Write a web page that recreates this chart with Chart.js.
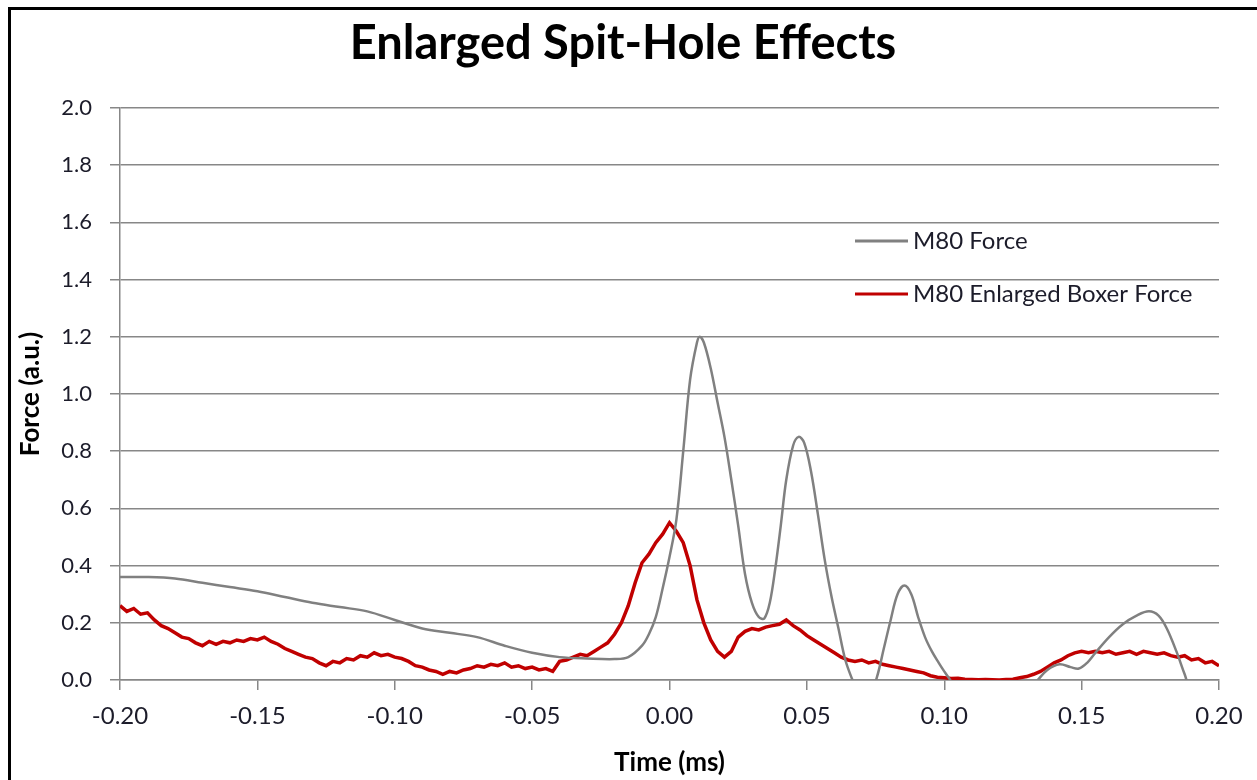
<!DOCTYPE html>
<html>
<head>
<meta charset="utf-8">
<title>Enlarged Spit-Hole Effects</title>
<script src="https://cdn.jsdelivr.net/npm/chart.js@4/dist/chart.umd.min.js"></script>
<style>
    body { margin: 0; background: #fff; }
    #wrap { position: relative; width: 1257px; height: 780px; overflow: hidden; }
    #marco { position: absolute; left: 8px; top: 7px; width: 1300px; height: 900px; border: 3px solid #000; box-sizing: border-box; }
</style>
</head>
<body>
<div id="wrap">
    <div id="marco"></div>
    <canvas id="grafica" width="1257" height="780"></canvas>
</div>
<script>
const tituloGrafica = 'Enlarged Spit-Hole Effects';
const tituloX = 'Time (ms)';
const tituloY = 'Force (a.u.)';
const nombreGris = 'M80 Force';
const nombreRojo = 'M80 Enlarged Boxer Force';
const ticksX = [-0.20, -0.15, -0.10, -0.05, 0.00, 0.05, 0.10, 0.15, 0.20];
const ticksY = [0.0, 0.2, 0.4, 0.6, 0.8, 1.0, 1.2, 1.4, 1.6, 1.8, 2.0];

// M80 Force (gris): tiempo y valor
const tiempoGris = [
    -0.2, -0.19, -0.18, -0.17, -0.16, -0.15, -0.14, -0.13, -0.12, -0.11,
    -0.10, -0.09, -0.08, -0.07, -0.06, -0.05, -0.04, -0.03, -0.02, -0.015,
    -0.01, -0.0075, -0.005, -0.0025, 0.0, 0.0025, 0.005, 0.0075, 0.01, 0.011,
    0.0125, 0.015, 0.0175, 0.02, 0.0225, 0.025, 0.0275, 0.03, 0.0325, 0.0345,
    0.0365, 0.0385, 0.0405, 0.0425, 0.045, 0.047, 0.049, 0.0515, 0.054, 0.0565,
    0.059, 0.0615, 0.064, 0.067, 0.07, 0.073, 0.0755, 0.078, 0.0805, 0.083,
    0.0855, 0.088, 0.0905, 0.093, 0.0955, 0.098, 0.1, 0.1025, 0.106, 0.115,
    0.125, 0.133, 0.1375, 0.142, 0.146, 0.149, 0.152, 0.155, 0.16, 0.165,
    0.17, 0.1745, 0.178, 0.181, 0.1845, 0.1875, 0.19, 0.195, 0.2
];
const fuerzaGris = [
    0.36, 0.36, 0.355, 0.34, 0.325, 0.31, 0.29, 0.27, 0.255, 0.24,
    0.21, 0.18, 0.165, 0.15, 0.12, 0.095, 0.08, 0.075, 0.073, 0.08,
    0.12, 0.16, 0.22, 0.32, 0.43, 0.56, 0.8, 1.05, 1.18, 1.2,
    1.18, 1.09, 0.97, 0.85, 0.7, 0.54, 0.37, 0.27, 0.22, 0.215,
    0.27, 0.39, 0.54, 0.7, 0.82, 0.85, 0.83, 0.73, 0.58, 0.42,
    0.29, 0.18, 0.07, -0.01, -0.08, -0.05, 0.01, 0.11, 0.21, 0.3,
    0.33, 0.3, 0.22, 0.15, 0.1, 0.06, 0.03, -0.005, -0.06, -0.1,
    -0.07, -0.01, 0.035, 0.055, 0.045, 0.04, 0.06, 0.095, 0.15, 0.195,
    0.225, 0.24, 0.225, 0.18, 0.1, 0.02, -0.04, -0.06, 0.0
];

// M80 Enlarged Boxer Force (rojo): una muestra cada 0.0025 ms desde -0.2
const inicioRojo = -0.2;
const pasoRojo = 0.0025;
const fuerzaRojo = [
    0.26, 0.24, 0.25, 0.23, 0.235, 0.21, 0.19, 0.18, 0.165, 0.15,
    0.145, 0.13, 0.12, 0.135, 0.125, 0.135, 0.13, 0.14, 0.135, 0.145,
    0.14, 0.15, 0.135, 0.125, 0.11, 0.1, 0.09, 0.08, 0.075, 0.06,
    0.05, 0.065, 0.06, 0.075, 0.07, 0.085, 0.08, 0.095, 0.085, 0.09,
    0.08, 0.075, 0.065, 0.05, 0.045, 0.035, 0.03, 0.02, 0.03, 0.025,
    0.035, 0.04, 0.05, 0.045, 0.055, 0.05, 0.06, 0.045, 0.05, 0.04,
    0.045, 0.035, 0.04, 0.03, 0.065, 0.07, 0.08, 0.09, 0.085, 0.1,
    0.115, 0.13, 0.16, 0.2, 0.26, 0.34, 0.41, 0.44, 0.48, 0.51,
    0.55, 0.52, 0.48, 0.40, 0.28, 0.2, 0.14, 0.1, 0.08, 0.1,
    0.15, 0.17, 0.18, 0.175, 0.185, 0.19, 0.195, 0.21, 0.19, 0.175,
    0.155, 0.14, 0.125, 0.11, 0.095, 0.08, 0.07, 0.065, 0.07, 0.06,
    0.065, 0.055, 0.05, 0.045, 0.04, 0.035, 0.03, 0.025, 0.015, 0.01,
    0.008, 0.005, 0.006, 0.003, 0.002, 0.001, 0.002, 0.001, 0.0, 0.002,
    0.003, 0.008, 0.012, 0.02, 0.03, 0.045, 0.06, 0.07, 0.085, 0.095,
    0.1, 0.095, 0.1, 0.095, 0.1, 0.09, 0.095, 0.1, 0.09, 0.1,
    0.095, 0.09, 0.095, 0.085, 0.08, 0.085, 0.07, 0.075, 0.06, 0.065,
    0.05
];

const puntosGris = tiempoGris.map((t, i) => ({ x: t, y: fuerzaGris[i] }));
const puntosRojo = fuerzaRojo.map((v, i) => ({ x: +(inicioRojo + i * pasoRojo).toFixed(4), y: v }));

const fuente = "Lato, 'Open Sans', sans-serif";
const colorTexto = '#1c1c2a';
const colorRejilla = '#878787';

// titulo y leyenda dibujados a mano (la leyenda va dentro del area de la grafica)
const textosExtra = {
    id: 'textosExtra',
    afterDraw(chart) {
        const ctx = chart.ctx;
        const area = chart.chartArea;

        ctx.save();
        ctx.fillStyle = '#000';
        ctx.font = 'bold 47px ' + fuente;
        ctx.textAlign = 'center';
        ctx.textBaseline = 'middle';
        ctx.fillText(tituloGrafica, 623, 44);
        ctx.restore();

        const x0 = area.right - 364;
        const filas = [area.top + 133, area.top + 186];
        chart.data.datasets.forEach((ds, i) => {
            const y = filas[i];
            ctx.save();
            ctx.strokeStyle = ds.borderColor;
            ctx.lineWidth = 3;
            ctx.beginPath();
            ctx.moveTo(x0, y);
            ctx.lineTo(x0 + 53, y);
            ctx.stroke();
            ctx.fillStyle = colorTexto;
            ctx.font = '24px ' + fuente;
            ctx.textBaseline = 'middle';
            ctx.fillText(ds.label, x0 + 58, y);
            ctx.restore();
        });
    }
};

const ctx = document.getElementById('grafica').getContext('2d');
new Chart(ctx, {
    type: 'line',
    data: {
        datasets: [{
            label: nombreGris,
            data: puntosGris,
            borderColor: '#808080',
            borderWidth: 2.5,
            pointRadius: 0,
            tension: 0.35,
            fill: false
        }, {
            label: nombreRojo,
            data: puntosRojo,
            borderColor: '#c00000',
            borderWidth: 3.5,
            pointRadius: 0,
            tension: 0,
            fill: false
        }]
    },
    options: {
        responsive: false,
        animation: false,
        layout: {
            padding: { left: 0, right: 38, top: 108, bottom: 0 }
        },
        scales: {
            x: {
                type: 'linear',
                min: -0.2,
                max: 0.2,
                afterFit: s => { s.height = 100; },
                afterBuildTicks: s => { s.ticks = ticksX.map(v => ({ value: v })); },
                ticks: {
                    color: colorTexto,
                    font: { family: fuente, size: 24 },
                    padding: 12,
                    maxRotation: 0,
                    callback: v => v.toFixed(2)
                },
                grid: {
                    drawOnChartArea: false,
                    drawTicks: true,
                    tickLength: 10,
                    color: colorRejilla,
                    lineWidth: 1.5
                },
                border: { color: colorRejilla, width: 1.5 },
                title: {
                    display: true,
                    text: tituloX,
                    color: '#000',
                    font: { family: fuente, size: 26, weight: 'bold' },
                    padding: { top: 0, bottom: 2 }
                }
            },
            y: {
                min: 0,
                max: 2,
                afterFit: s => { s.width = 120; },
                afterBuildTicks: s => { s.ticks = ticksY.map(v => ({ value: v })); },
                ticks: {
                    color: colorTexto,
                    font: { family: fuente, size: 22 },
                    padding: 18,
                    callback: v => v.toFixed(1)
                },
                grid: {
                    color: colorRejilla,
                    lineWidth: 1.5,
                    tickLength: 10
                },
                border: { color: colorRejilla, width: 1.5 },
                title: {
                    display: true,
                    text: tituloY,
                    color: '#000',
                    font: { family: fuente, size: 26, weight: 'bold' },
                    padding: { top: 15, bottom: 0 }
                }
            }
        },
        plugins: {
            legend: { display: false },
            tooltip: { enabled: false },
            title: { display: false }
        }
    },
    plugins: [textosExtra]
});
</script>
</body>
</html>
